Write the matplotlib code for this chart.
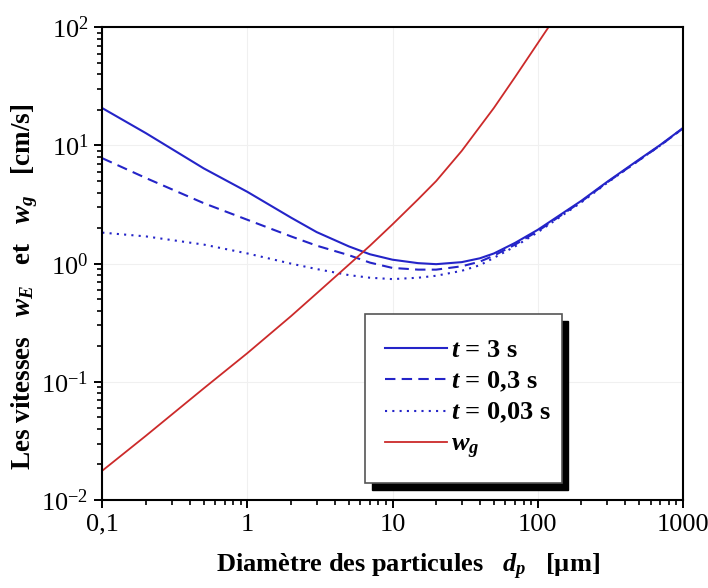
import numpy as np
import matplotlib
matplotlib.use("Agg")
import matplotlib.pyplot as plt
from matplotlib.patches import Rectangle
from matplotlib.ticker import LogLocator, FixedLocator, FixedFormatter, NullFormatter

plt.rcParams['font.family'] = ['Liberation Serif', 'DejaVu Serif']
plt.rcParams['mathtext.fontset'] = 'custom'
plt.rcParams['mathtext.rm'] = 'Liberation Serif'
plt.rcParams['mathtext.it'] = 'Liberation Serif:italic:bold'
plt.rcParams['mathtext.bf'] = 'Liberation Serif:bold'

# ---- data ----
d_blue = [0.1, 0.2, 0.5, 1, 2, 3, 5, 7, 10, 15, 20, 30, 40, 50, 70, 100, 200, 300, 500, 700, 1000]
w_t3 = [20.7, 12.7, 6.4, 4.05, 2.45, 1.85, 1.4, 1.2, 1.08, 1.01, 0.99, 1.03, 1.11, 1.22, 1.5, 1.93, 3.4, 4.9, 7.6, 10.1, 14.0]
w_t03 = [7.8, 5.3, 3.25, 2.35, 1.7, 1.42, 1.18, 1.02, 0.92, 0.89, 0.89, 0.95, 1.04, 1.17, 1.45, 1.88, 3.35, 4.85, 7.5, 10.0, 13.9]
w_t003 = [1.83, 1.70, 1.45, 1.22, 1.0, 0.9, 0.8, 0.76, 0.74, 0.76, 0.79, 0.87, 0.97, 1.12, 1.4, 1.84, 3.3, 4.8, 7.5, 10.0, 13.9]

d_red = [0.1, 0.2, 0.5, 1, 2, 3, 5, 7, 10, 15, 20, 30, 50, 70, 100, 130]
w_g = [0.0177, 0.035, 0.088, 0.175, 0.36, 0.56, 0.98, 1.42, 2.15, 3.5, 5.0, 9.0, 20.8, 38, 73, 118]

x_ticks = [0.1, 1, 10, 100, 1000]
x_ticklabels = ['0,1', '1', '10', '100', '1000']
y_ticks = [1e-2, 1e-1, 1e0, 1e1, 1e2]
y_ticklabels = [r'$10^{-2}$', r'$10^{-1}$', r'$10^{0}$', r'$10^{1}$', r'$10^{2}$']

labels = [r'$t$ = 3 s', r'$t$ = 0,3 s', r'$t$ = 0,03 s', r'$w_g$']

blue = '#2424c8'
red = '#cc2a2a'

fig = plt.figure(figsize=(7.08, 5.88), dpi=100)
ax = fig.add_axes([102.3/708, 1-500/588, (682.7-102.3)/708, (500-27.3)/588])

l1, = ax.plot(d_blue, w_t3, color=blue, lw=1.5, ls='-')
l2, = ax.plot(d_blue, w_t03, color=blue, lw=1.5, ls=(0, (5, 3)))
l3, = ax.plot(d_blue, w_t003, color=blue, lw=1.5, ls=(0, (1, 2.5)))
l4, = ax.plot(d_red, w_g, color=red, lw=1.3, ls='-')

ax.set_xscale('log')
ax.set_yscale('log')
ax.set_xlim(0.1, 1000)
ax.set_ylim(1e-2, 1e2)

ax.xaxis.set_major_locator(FixedLocator(x_ticks))
ax.xaxis.set_major_formatter(FixedFormatter(x_ticklabels))
ax.yaxis.set_major_locator(FixedLocator(y_ticks))
ax.yaxis.set_major_formatter(FixedFormatter(y_ticklabels))
ax.xaxis.set_minor_locator(LogLocator(base=10, subs=np.arange(2, 10), numticks=20))
ax.yaxis.set_minor_locator(LogLocator(base=10, subs=np.arange(2, 10), numticks=20))
ax.xaxis.set_minor_formatter(NullFormatter())
ax.yaxis.set_minor_formatter(NullFormatter())

ax.tick_params(which='major', direction='out', length=6, width=1.4, labelsize=19, pad=4)
ax.tick_params(which='minor', direction='out', length=3.5, width=1.2)
ax.tick_params(top=False, right=False, which='both')

for sp in ax.spines.values():
    sp.set_linewidth(1.5)

ax.grid(True, which='major', color='#f0f0f0', lw=0.8)
ax.set_axisbelow(True)

ax.set_xlabel(r'Diamètre des particules   $d_p$   [µm]', fontsize=19, fontweight='bold')
ax.set_ylabel(r'Les vitesses   $w_E$   et   $w_g$   [cm/s]', fontsize=19.5, fontweight='bold')
ax.xaxis.set_label_coords((408 - 102.3) / 580.4, -(552 - 500) / 472.7)
ax.yaxis.set_label_coords(-(102.3 - 40) / 580.4, (500 - 287) / 472.7)

# legend box with black shadow
shadow = Rectangle((372/708, 1-490/588), (568-372)/708, (490-321)/588, transform=fig.transFigure,
                   facecolor='black', edgecolor='black', zorder=4, clip_on=False)
box = Rectangle((365/708, 1-483/588), (562-365)/708, (483-314)/588, transform=fig.transFigure,
                facecolor='white', edgecolor='#555555', lw=1.2, zorder=4.5, clip_on=False)
ax.add_artist(shadow)
ax.add_artist(box)

leg = ax.legend([l1, l2, l3, l4], labels, loc='upper left', bbox_to_anchor=(385/708, 1-339/588),
                bbox_transform=fig.transFigure, frameon=False, handlelength=2.35, handletextpad=0.15,
                labelspacing=0.27, borderpad=0, borderaxespad=0,
                prop={'weight': 'bold', 'size': 19})
leg.set_zorder(6)

fig.savefig('out.png', dpi=100)
